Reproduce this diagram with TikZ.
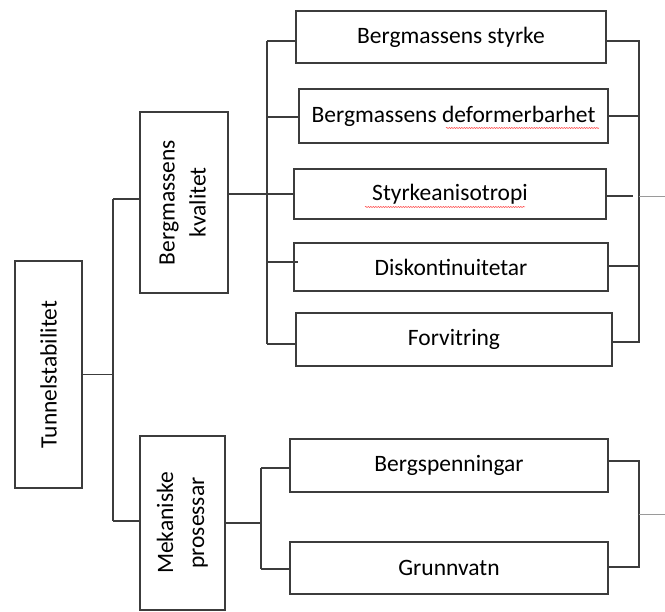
\documentclass[tikz,border=0pt]{standalone}
\usepackage{graphicx}
\usepackage{fontspec}
\setmainfont{Carlito}
\usetikzlibrary{decorations.pathmorphing}
\definecolor{linec}{HTML}{3C3C3C}
\definecolor{outc}{HTML}{9A9A9A}
\begin{document}
\begin{tikzpicture}[x=1pt,y=-1pt,
  box/.style={draw=linec, line width=2pt, fill=white, inner sep=0pt, align=center,
    font=\fontsize{23.5}{31}\selectfont},
  conn/.style={draw=linec, line width=1.7pt},
  outl/.style={draw=outc, line width=0.9pt},
  squig/.style={draw=red!75, line width=0.5pt, decorate,
    decoration={snake, amplitude=0.6pt, segment length=2.5pt}}]
\useasboundingbox (0,0) rectangle (665,612);

% boxes
\node[box, minimum width=67pt, minimum height=227pt] (T) at (48.5,374.5)
  {\rotatebox{90}{Tunnelstabilitet}};
\node[box, minimum width=88pt, minimum height=181pt] (BK) at (184,202.5)
  {\rotatebox{90}{\begin{tabular}{@{}c@{}}Bergmassens\\kvalitet\end{tabular}}};
\node[box, minimum width=85pt, minimum height=174pt] (MP) at (182.5,523)
  {\rotatebox{90}{\begin{tabular}{@{}c@{}}Mekaniske\\prosessar\end{tabular}}};

\node[box, minimum width=310pt, minimum height=52pt] (b1) at (451,37) {Bergmassens styrke};
\node[box, minimum width=309pt, minimum height=54pt] (b2) at (453.5,116) {Bergmassens deformerbarhet};
\node[box, minimum width=312pt, minimum height=50pt] (b3) at (450,194) {Styrkeanisotropi};
\node[box, minimum width=314pt, minimum height=48pt] (b4) at (451,267) {Diskontinuitetar};
\node[box, minimum width=316pt, minimum height=53pt] (b5) at (454,339.5) {Forvitring};
\node[box, minimum width=318pt, minimum height=53pt] (g1) at (449,465.5) {Bergspenningar};
\node[box, minimum width=318pt, minimum height=52pt] (g2) at (449,568) {Grunnvatn};

% spell-check underlines
\draw[squig] (446,128) -- (599,128);
\draw[squig] (365,207) -- (525,207);

% left trunk
\coordinate (ta) at (113,199);
\coordinate (tb) at (113,521);
\draw[conn] (T.east) -- (T.east -| ta);
\draw[conn] (ta) -- (tb);
\draw[conn] (ta) -- (ta -| BK.west);
\draw[conn] (tb) -- (tb -| MP.west);

% upper group, left side
\coordinate (ba) at (267,41);
\coordinate (b2l) at (267,117);
\coordinate (b4l) at (267,262);
\coordinate (b4e) at (298,262);
\coordinate (bb) at (267,344);
\draw[conn] (ba) -- (bb);
\draw[conn] (BK.east |- b3.west) -- (b3.west);
\draw[conn] (ba) -- (ba -| b1.west);
\draw[conn] (b2l) -- (b2l -| b2.west);
\draw[conn] (b4l) -- (b4e);
\draw[conn] (bb) -- (bb -| b5.west);

% upper group, right side
\coordinate (ra) at (639,41);
\coordinate (r2) at (639,116);
\coordinate (r3) at (633,196);
\coordinate (ro) at (639,196);
\coordinate (r4) at (639,266);
\coordinate (rb) at (639,342);
\coordinate (o1) at (665,196);
\draw[conn] (ra -| b1.east) -- (ra) -- (rb) -- (rb -| b5.east);
\draw[conn] (r2 -| b2.east) -- (r2);
\draw[conn] (r3 -| b3.east) -- (r3);
\draw[conn] (r4 -| b4.east) -- (r4);
\draw[outl] (ro) -- (o1);

% lower group
\coordinate (ma) at (261,468);
\coordinate (mb) at (261,569);
\draw[conn] (MP.east) -- (MP.east -| ma);
\draw[conn] (ma) -- (mb);
\draw[conn] (ma) -- (ma -| g1.west);
\draw[conn] (mb) -- (mb -| g2.west);

\coordinate (ga) at (639,461);
\coordinate (gb) at (639,567);
\coordinate (go) at (639,514);
\coordinate (o2) at (665,514);
\draw[conn] (ga -| g1.east) -- (ga) -- (gb) -- (gb -| g2.east);
\draw[outl] (go) -- (o2);
\end{tikzpicture}
\end{document}
